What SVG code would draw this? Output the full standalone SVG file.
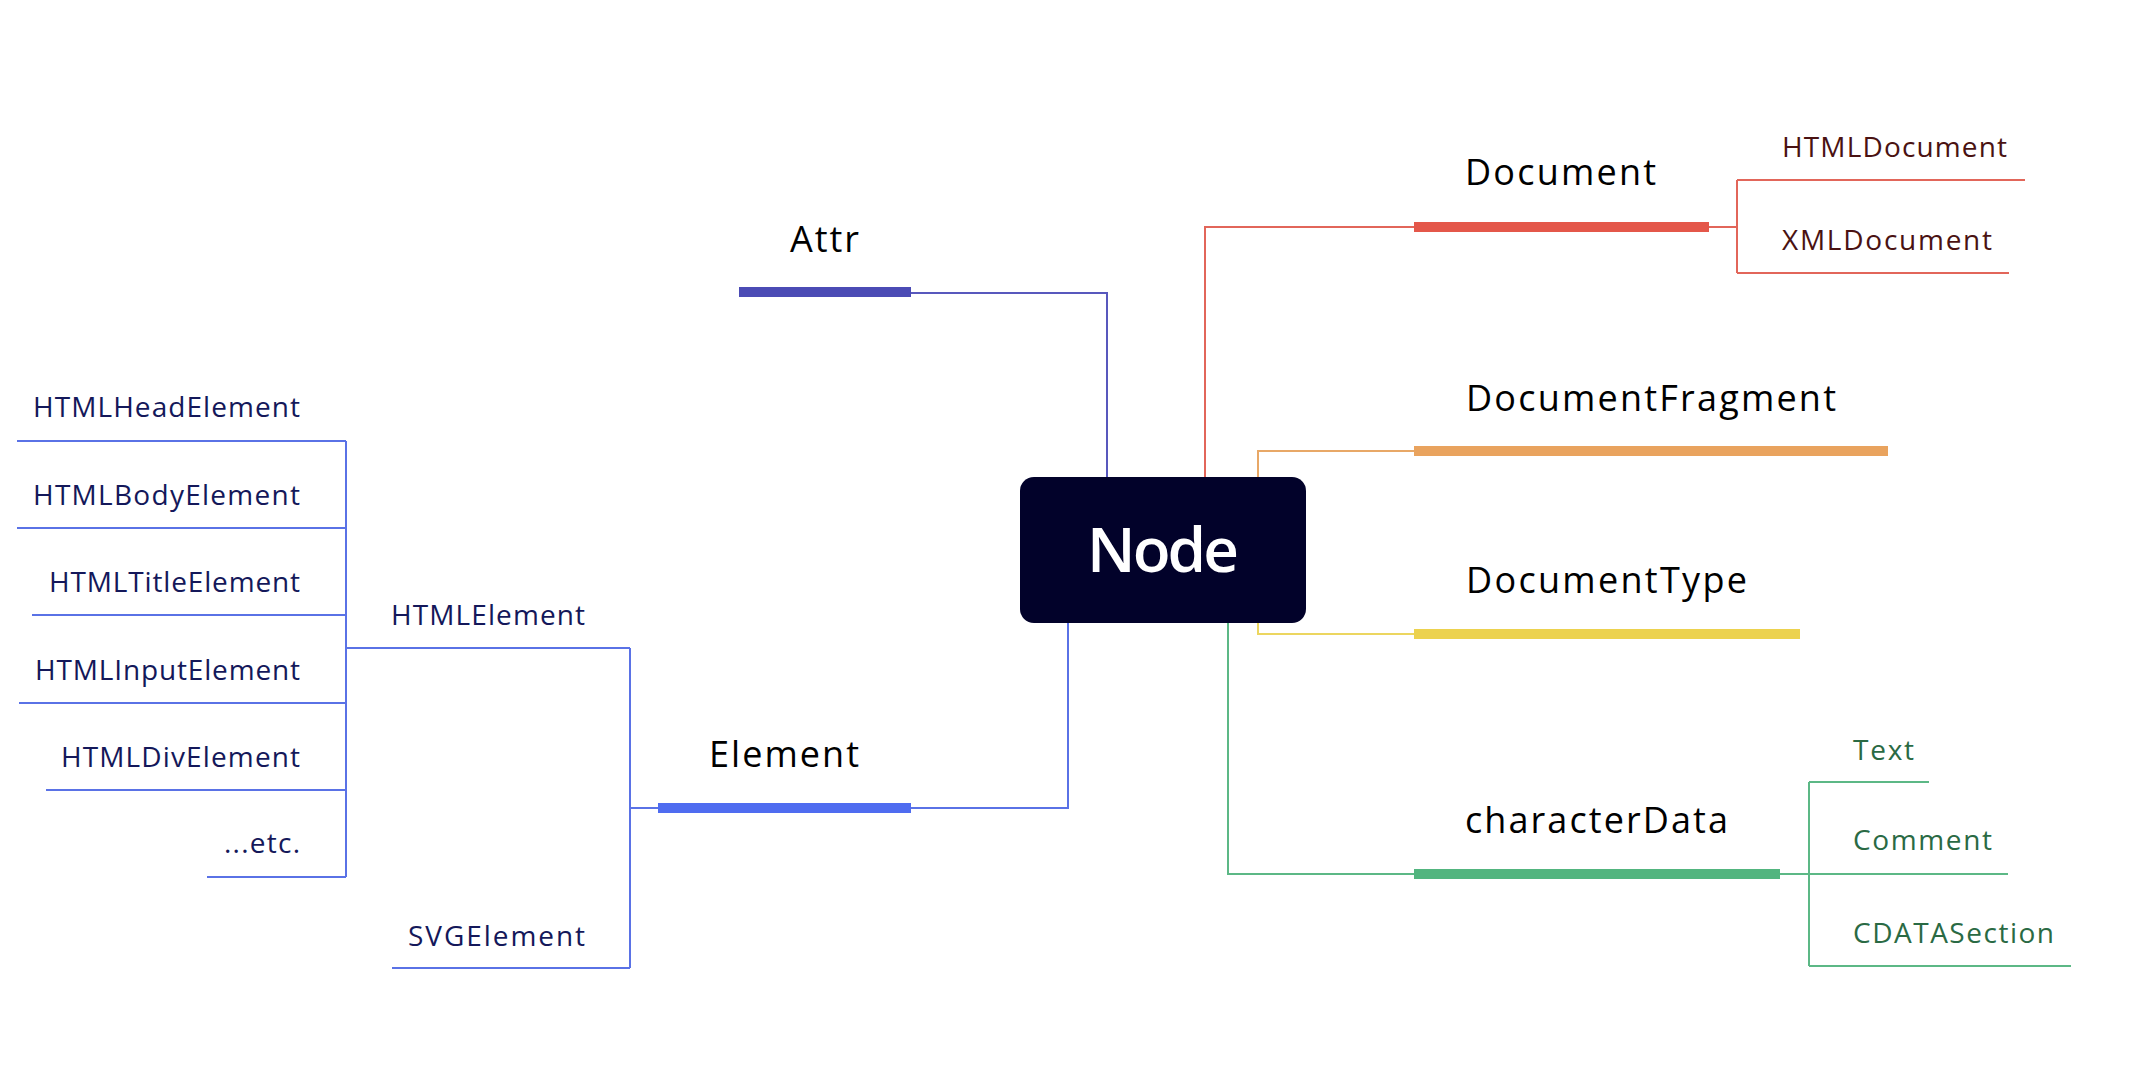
<svg xmlns="http://www.w3.org/2000/svg" width="2132" height="1090" viewBox="0 0 2132 1090">
<style>
.main{font-family:"Open Sans","Liberation Sans",sans-serif;font-size:36px;fill:#000}
.sub{font-family:"Open Sans","Liberation Sans",sans-serif;font-size:28px}
.ln{fill:none;stroke-width:2}
.blue{stroke:#5a72e6}.purple{stroke:#5858bd}.red{stroke:#e2665a}.orange{stroke:#e8a867}.yellow{stroke:#ecd660}.green{stroke:#5cb886}
.tb{fill:#14185a}.tr{fill:#4a1212}.tg{fill:#2a6a44}
</style>
<rect width="2132" height="1090" fill="#fff"/>
<g id="connectors">
  <path class="ln purple" d="M911 293 H1107 V477"/>
  <path class="ln red" d="M1205 477 V227 H1414"/>
  <path class="ln red" d="M1709 227 H1737 M1737 180 V273 M1737 180 H2025 M1737 273 H2009"/>
  <path class="ln orange" d="M1258 477 V451 H1414"/>
  <path class="ln yellow" d="M1258 623 V634 H1414"/>
  <path class="ln green" d="M1228 623 V874 H1414"/>
  <path class="ln green" d="M1780 874 H1809 M1809 782 V966 M1809 782 H1929 M1809 874 H2008 M1809 966 H2071"/>
  <path class="ln blue" d="M1068 623 V808 H911"/>
  <path class="ln blue" d="M658 808 H630 M630 648 V968 M630 648 H346 M630 968 H392"/>
  <path class="ln blue" d="M346 441 V877 M17 441 H346 M17 528 H346 M32 615 H346 M19 703 H346 M46 790 H346 M207 877 H346"/>
</g>
<g id="node-root">
  <rect x="1020" y="477" width="286" height="146" rx="14" fill="#02022a"/>
  <text x="1087" y="572" textLength="152" lengthAdjust="spacing" font-family="Open Sans, Liberation Sans, sans-serif" font-size="62" font-weight="600" fill="#fff">Node</text>
</g>
<g id="node-attr">
  <rect x="739" y="287" width="172" height="10" fill="#4b4bb5"/>
  <text class="main" x="790" y="252" textLength="69" lengthAdjust="spacing">Attr</text>
</g>
<g id="node-document">
  <rect x="1414" y="222" width="295" height="10" fill="#e4574a"/>
  <text class="main" x="1465" y="185" textLength="191" lengthAdjust="spacing">Document</text>
</g>
<g id="node-htmldocument"><text class="sub tr" x="1782" y="157" textLength="225" lengthAdjust="spacing">HTMLDocument</text></g>
<g id="node-xmldocument"><text class="sub tr" x="1782" y="250" textLength="210" lengthAdjust="spacing">XMLDocument</text></g>
<g id="node-documentfragment">
  <rect x="1414" y="446" width="474" height="10" fill="#e9a35e"/>
  <text class="main" x="1466" y="411" textLength="370" lengthAdjust="spacing">DocumentFragment</text>
</g>
<g id="node-documenttype">
  <rect x="1414" y="629" width="386" height="10" fill="#ecd24e"/>
  <text class="main" x="1466" y="593" textLength="281" lengthAdjust="spacing">DocumentType</text>
</g>
<g id="node-characterdata">
  <rect x="1414" y="869" width="366" height="10" fill="#52b57f"/>
  <text class="main" x="1465" y="833" textLength="263" lengthAdjust="spacing">characterData</text>
</g>
<g id="node-text"><text class="sub tg" x="1853" y="760" textLength="61" lengthAdjust="spacing">Text</text></g>
<g id="node-comment"><text class="sub tg" x="1853" y="850" textLength="139" lengthAdjust="spacing">Comment</text></g>
<g id="node-cdatasection"><text class="sub tg" x="1853" y="943" textLength="201" lengthAdjust="spacing">CDATASection</text></g>
<g id="node-element">
  <rect x="658" y="803" width="253" height="10" fill="#4f6cf0"/>
  <text class="main" x="709" y="767" textLength="150" lengthAdjust="spacing">Element</text>
</g>
<g id="node-htmlelement"><text class="sub tb" x="391" y="625" textLength="194" lengthAdjust="spacing">HTMLElement</text></g>
<g id="node-svgelement"><text class="sub tb" x="408" y="946" textLength="177" lengthAdjust="spacing">SVGElement</text></g>
<g id="node-htmlheadelement"><text class="sub tb" x="33" y="417" textLength="267" lengthAdjust="spacing">HTMLHeadElement</text></g>
<g id="node-htmlbodyelement"><text class="sub tb" x="33" y="505" textLength="267" lengthAdjust="spacing">HTMLBodyElement</text></g>
<g id="node-htmltitleelement"><text class="sub tb" x="49" y="592" textLength="251" lengthAdjust="spacing">HTMLTitleElement</text></g>
<g id="node-htmlinputelement"><text class="sub tb" x="35" y="680" textLength="265" lengthAdjust="spacing">HTMLInputElement</text></g>
<g id="node-htmldivelement"><text class="sub tb" x="61" y="767" textLength="239" lengthAdjust="spacing">HTMLDivElement</text></g>
<g id="node-etc"><text class="sub tb" x="224" y="853" textLength="76" lengthAdjust="spacing">...etc.</text></g>
</svg>
